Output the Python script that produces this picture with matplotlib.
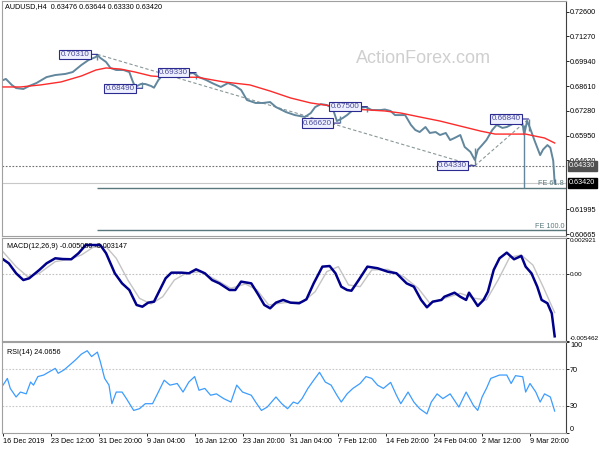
import matplotlib.pyplot as plt

plt.rcParams['font.family'] = ['Liberation Sans', 'DejaVu Sans']

# --- price (H4 closes), x = bar number ---
bars = [0, 2, 6, 9, 14, 18, 23, 30, 36, 43, 48, 54, 59, 64, 65, 67, 71, 74, 78, 83,
        87, 89, 91, 95, 98, 102, 104, 107, 110, 114, 119, 126, 131, 135, 140, 144, 150, 155, 160, 164,
        168, 174, 179, 184, 188, 195, 201, 208, 212, 215, 219, 223, 227, 230, 234, 237, 241, 245, 250, 254,
        260, 263, 267, 270, 274, 277, 281, 284, 287, 291, 294, 298, 301, 305, 308, 311, 315, 318, 322, 325,
        327, 330, 333, 337, 340, 344, 347, 351, 354, 358, 359, 361, 363, 366, 370, 372, 375, 377, 379, 380]
close = [0.6893, 0.6899, 0.6867, 0.6850, 0.6845, 0.6861, 0.6877, 0.6909, 0.6920, 0.6926,
         0.6936, 0.6974, 0.7001, 0.7017, 0.7028, 0.7012, 0.6990, 0.6958, 0.6947, 0.6947,
         0.6936, 0.6893, 0.6856, 0.6872, 0.6872, 0.6861, 0.6852, 0.6893, 0.6920, 0.6931,
         0.6920, 0.6925, 0.6931, 0.6909, 0.6893, 0.6877, 0.6856, 0.6877, 0.6861, 0.6840,
         0.6786, 0.6770, 0.6770, 0.6775, 0.6748, 0.6721, 0.6705, 0.6695, 0.6716, 0.6748,
         0.6764, 0.6759, 0.6743, 0.6673, 0.6689, 0.6705, 0.6732, 0.6743, 0.6748, 0.6732,
         0.6732, 0.6735, 0.6727, 0.6705, 0.6705, 0.6705, 0.6652, 0.6625, 0.6614, 0.6641,
         0.6609, 0.6614, 0.6598, 0.6609, 0.6571, 0.6582, 0.6598, 0.6534, 0.6507, 0.6464,
         0.6518, 0.6544, 0.6571, 0.6625, 0.6652, 0.6636, 0.6641, 0.6657, 0.6668, 0.6652,
         0.6600, 0.6673, 0.6636, 0.6571, 0.6490, 0.6520, 0.6544, 0.6530, 0.6460, 0.6342]

# a few visible high/low wicks
wick_bars = [65, 96, 133, 232, 251, 325, 359, 362, 380]
wick_low = [0.7000, 0.6849, 0.6900, 0.6662, 0.6720, 0.6433, 0.6313, 0.6620, 0.6333]
wick_high = [0.7031, 0.6880, 0.6933, 0.6700, 0.6750, 0.6530, 0.6650, 0.6684, 0.6364]

# red moving average
ma_bars = [0, 12, 26, 40, 54, 64, 71, 81, 91, 102, 112, 134, 152, 170, 184, 198, 212, 226,
           239, 253, 263, 274, 287, 301, 315, 329, 339, 349, 360, 366, 373, 380]
ma_vals = [0.6856, 0.6856, 0.6867, 0.6883, 0.6915, 0.6947, 0.6958, 0.6952, 0.6936, 0.6915,
           0.6909, 0.6908, 0.6883, 0.6867, 0.6834, 0.6797, 0.6770, 0.6754, 0.6738, 0.6732,
           0.6727, 0.6716, 0.6695, 0.6673, 0.6646, 0.6619, 0.6603, 0.6603, 0.6603, 0.6593,
           0.6582, 0.6555]

# zigzag swing labels
swing_bars = [65, 96, 133, 232, 251, 325, 362]
swing_vals = [0.7031, 0.6849, 0.6933, 0.6662, 0.6750, 0.6433, 0.6684]

# Fibonacci expansion legs (high, low, high)
fe_bars = [65, 325, 362]
fe_vals = [0.7031, 0.6433, 0.6684]
last_price = 0.6342

price_ticks = [0.72600, 0.71270, 0.69940, 0.68610, 0.67280, 0.65950, 0.64620, 0.61995, 0.60665]

# --- MACD(12,26,9) ---
macd_bars = [0, 4, 9, 14, 18, 25, 30, 36, 41, 47, 52, 57, 62, 67, 71, 77, 82, 87, 92, 96,
             100, 104, 108, 112, 116, 123, 128, 133, 139, 144, 149, 156, 160, 164, 171, 176, 180, 184, 188, 193,
             198, 204, 209, 214, 220, 225, 229, 233, 237, 240, 245, 251, 258, 265, 271, 278, 283, 288, 292, 296,
             302, 304, 311, 315, 319, 321, 327, 331, 334, 338, 342, 347, 352, 357, 360, 364, 368, 371, 375, 378, 380]
macd_vals = [0.00119, 0.00086, 0.00005, -0.00050, -0.00036, 0.00032, 0.00086, 0.00127, 0.00121, 0.00119,
             0.00168, 0.00235, 0.00235, 0.00235, 0.00168, 0.00005, -0.00077, -0.00131, -0.00253, -0.00267,
             -0.00234, -0.00226, -0.00131, -0.00036, 0.00010, 0.00010, 0.00005, 0.00037, 0.00005, -0.00050,
             -0.00077, -0.00131, -0.00131, -0.00063, -0.00077, -0.00172, -0.00253, -0.00280, -0.00234, -0.00212,
             -0.00234, -0.00239, -0.00207, -0.00077, 0.00059, 0.00064, 0.00005, -0.00104, -0.00131, -0.00137,
             -0.00050, 0.00059, 0.00046, 0.00018, 0.00005, -0.00077, -0.00104, -0.00212, -0.00272, -0.00226,
             -0.00212, -0.00186, -0.00153, -0.00186, -0.00212, -0.00153, -0.00261, -0.00212, -0.00145, 0.00032,
             0.00127, 0.00173, 0.00119, 0.00146, 0.00059, 0.00005, -0.00104, -0.00212, -0.00239, -0.00321, -0.00508]
signal_bars = [0, 9, 17, 25, 36, 46, 54, 62, 71, 78, 86, 94, 102, 110, 118, 126, 136, 147, 157, 167,
               175, 183, 194, 207, 215, 223, 231, 238, 246, 254, 265, 276, 286, 294, 304, 315, 325, 333, 341, 349,
               357, 365, 372, 380]
signal_vals = [0.00180, 0.00059, -0.00023, 0.00005, 0.00100, 0.00119, 0.00154, 0.00216, 0.00221, 0.00127,
               -0.00050, -0.00199, -0.00245, -0.00186, -0.00050, 0.00005, 0.00018, -0.00050, -0.00117, -0.00082,
               -0.00131, -0.00253, -0.00234, -0.00226, -0.00145, 0.00018, 0.00059, -0.00090, -0.00104, 0.00032,
               0.00037, -0.00023, -0.00117, -0.00239, -0.00199, -0.00158, -0.00199, -0.00212, -0.00050, 0.00135,
               0.00154, 0.00072, -0.00104, -0.00315]
macd_min, macd_max = -0.005462, 0.002921

# --- RSI(14) ---
rsi_bars = [0, 3, 5, 9, 12, 16, 19, 21, 24, 28, 32, 36, 38, 42, 46, 50, 54, 58, 61, 65,
            67, 70, 73, 75, 78, 82, 85, 90, 94, 98, 103, 107, 111, 115, 120, 124, 128, 132, 135, 139,
            143, 147, 152, 157, 161, 165, 171, 174, 178, 182, 188, 192, 196, 200, 203, 206, 210, 214, 218, 222,
            226, 230, 233, 237, 241, 246, 250, 254, 258, 262, 267, 271, 274, 279, 283, 287, 292, 295, 299, 303,
            308, 314, 319, 324, 327, 330, 333, 336, 342, 347, 350, 353, 358, 360, 363, 367, 370, 373, 377, 380]
rsi_vals = [52.6, 60.0, 49.0, 39.6, 45.0, 43.0, 56.0, 52.6, 62.0, 63.7,
            67.4, 71.0, 65.6, 69.3, 74.8, 80.4, 86.7, 90.4, 84.0, 88.9,
            78.5, 60.0, 52.6, 32.2, 45.0, 45.0, 37.8, 24.8, 26.7, 32.2,
            32.2, 45.0, 58.0, 52.6, 54.4, 45.0, 56.0, 62.0, 47.0, 49.0,
            41.5, 43.0, 37.8, 34.0, 52.6, 45.0, 41.5, 34.0, 24.8, 28.5,
            39.6, 32.2, 26.7, 34.0, 32.2, 37.8, 49.0, 58.0, 66.7, 56.0,
            52.6, 41.5, 34.0, 43.0, 49.0, 54.4, 62.0, 60.0, 52.6, 49.0,
            55.6, 41.5, 32.2, 45.0, 34.0, 26.7, 21.0, 34.0, 43.0, 37.8,
            43.0, 28.5, 45.0, 30.4, 24.8, 39.6, 49.0, 60.0, 63.7, 63.7,
            54.4, 63.0, 61.8, 45.0, 54.4, 45.0, 34.0, 43.0, 39.6, 24.07]

# time axis labels every 33 bars
tick_bars = [0, 33, 66, 99, 132, 165, 198, 231, 264, 297, 330, 363]
tick_labels = ['16 Dec 2019', '23 Dec 12:00', '31 Dec 20:00', '9 Jan 04:00', '16 Jan 12:00',
               '23 Jan 20:00', '31 Jan 04:00', '7 Feb 12:00', '14 Feb 20:00', '24 Feb 04:00',
               '2 Mar 12:00', '9 Mar 20:00']

FS = 5.2
NAVY = '#2a2a90'

fig = plt.figure(figsize=(6, 4.5), dpi=100)


def panel(top, bottom):
    # panel rectangle given in pixel rows of the 600x450 picture
    return fig.add_axes([2 / 600, 1 - bottom / 450, 564 / 600, (bottom - top) / 450])


ax = panel(1, 236)
ax_macd = panel(238, 341)
ax_rsi = panel(342, 433)

for a in (ax, ax_macd, ax_rsi):
    a.set_xlim(-0.7, 387.8)
    a.yaxis.tick_right()
    a.tick_params(axis='y', length=2, width=0.6, pad=1, labelsize=FS)
    a.tick_params(axis='x', bottom=False, labelbottom=False)
    for s in a.spines.values():
        s.set_color('#a0a0a0')
        s.set_linewidth(0.8)
    a.spines['right'].set_color('#404040')

# ---------------- main price panel ----------------
ax.set_ylim(0.60558, 0.73175)
ax.set_yticks(price_ticks, [f'{p:.5f}' for p in price_ticks])

ax.text(0.748, 0.757, 'ActionForex.com', transform=ax.transAxes, fontsize=13,
        color='#cfcfcf', ha='center', va='center', zorder=0)

ax.plot(bars, close, color='#62879d', lw=1.4, zorder=2)
ax.vlines(wick_bars, wick_low, wick_high, color='#62879d', lw=1.0, zorder=2)
ax.plot(ma_bars, ma_vals, color='#ff2a2a', lw=1.0, zorder=3)

# support / last price lines
ax.axhline(fe_vals[1], color='#707070', ls=(0, (1.5, 1.5)), lw=0.8, zorder=1)
ax.axhline(last_price, color='#c8c8c8', lw=0.8, zorder=1)

# Fibonacci expansion tool
leg = fe_vals[0] - fe_vals[1]
fe618 = fe_vals[2] - 0.618 * leg
fe100 = fe_vals[2] - leg
ax.plot(fe_bars[:2], fe_vals[:2], color='#8a9898', ls=(0, (3, 2)), lw=0.8, zorder=1)
ax.plot(fe_bars[1:], fe_vals[1:], color='#8a9898', ls=(0, (3, 2)), lw=0.8, zorder=1)
for lvl, name in ((fe618, 'FE 61.8'), (fe100, 'FE 100.0')):
    ax.hlines(lvl, fe_bars[0], 387.8, color='#58787c', lw=1.0, zorder=1)
    ax.text(386.5, lvl + 0.0004, name, fontsize=FS, color='#58787c', ha='right', va='bottom')

# swing labels
for b, v in zip(swing_bars, swing_vals):
    ax.annotate(f'{v:.5f}', xy=(b, v), xytext=(-8, 0), textcoords='offset pixels',
                ha='right', va='center', fontsize=5.8, color='#4a4a9a', zorder=6,
                bbox=dict(boxstyle='square,pad=0.15', fc='#eef0ff', ec=NAVY, lw=0.8),
                arrowprops=dict(arrowstyle='-', color=NAVY, lw=0.8, shrinkA=0, shrinkB=0))

# highlighted values on the price scale
for v, bg in ((fe_vals[1], '#505050'), (last_price, '#000000')):
    ax.annotate(f'{v:.5f}', xy=(1, v), xycoords=('axes fraction', 'data'), xytext=(3, 0),
                textcoords='offset pixels', ha='left', va='center', fontsize=FS, color='white',
                zorder=8, annotation_clip=False,
                bbox=dict(boxstyle='square,pad=0.2', fc=bg, ec=bg))

fig.text(5 / 600, 1 - 7 / 450, 'AUDUSD,H4  0.63476 0.63644 0.63330 0.63420',
         fontsize=FS, va='center', ha='left')

# ---------------- MACD panel ----------------
ax_macd.set_ylim(macd_min, macd_max)
ax_macd.axhline(0, color='#c0c0c0', ls=(0, (1.5, 1.5)), lw=0.8)
ax_macd.plot(signal_bars, signal_vals, color='#c4c4c4', lw=1.0)
ax_macd.plot(macd_bars, macd_vals, color='#00008b', lw=1.8)
ax_macd.set_yticks([macd_max, 0, macd_min], ['0.002921', '0.00', '-0.005462'])
ax_macd.tick_params(axis='y', labelsize=4.6)
tl = ax_macd.get_yticklabels()
tl[0].set_va('top')
tl[2].set_va('bottom')
ax_macd.text(0.008, 0.92, 'MACD(12,26,9) -0.005080 -0.003147', transform=ax_macd.transAxes,
             fontsize=FS, va='center', ha='left')

# ---------------- RSI panel ----------------
ax_rsi.set_ylim(0, 100)
for lvl in (70, 30):
    ax_rsi.axhline(lvl, color='#c8c8c8', ls=(0, (1.5, 1.5)), lw=0.8)
ax_rsi.plot(rsi_bars, rsi_vals, color='#3c9cff', lw=0.9)
ax_rsi.set_yticks([100, 70, 30, 0], ['100', '70', '30', '0'])
tl = ax_rsi.get_yticklabels()
tl[0].set_va('top')
tl[3].set_va('bottom')
ax_rsi.text(0.008, 0.88, 'RSI(14) 24.0656', transform=ax_rsi.transAxes,
            fontsize=FS, va='center', ha='left')

ax_rsi.tick_params(axis='x', bottom=True, labelbottom=True, length=2.5, width=0.6, pad=1,
                   labelsize=FS)
ax_rsi.set_xticks(tick_bars, tick_labels)
for lbl in ax_rsi.get_xticklabels():
    lbl.set_ha('left')

fig.savefig('out.png', dpi=100)
